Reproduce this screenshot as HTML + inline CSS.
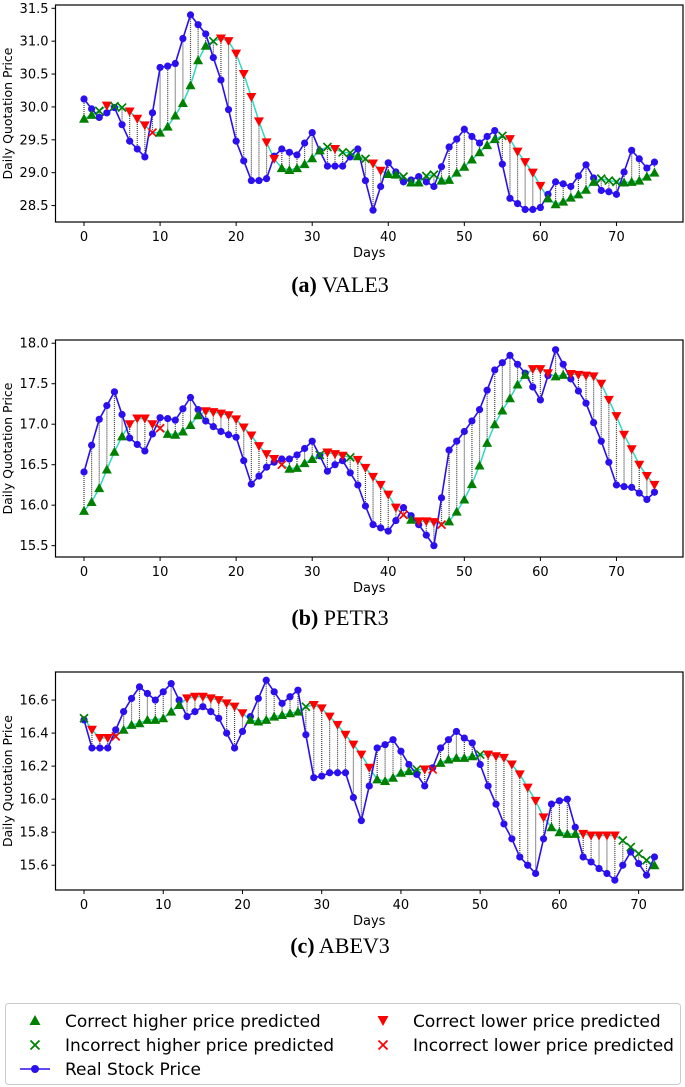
<!DOCTYPE html>
<html><head><meta charset="utf-8"><style>
html,body{margin:0;padding:0;background:#fff;}
svg{display:block;font-family:"DejaVu Sans","Liberation Sans",sans-serif;}
</style></head><body>
<svg id="root" width="685" height="1087" viewBox="0 0 685 1087" xmlns="http://www.w3.org/2000/svg">
<g id="charts"></g>
<text x="340" y="292" text-anchor="middle" font-family="Liberation Serif, serif" font-size="22"><tspan font-weight="bold">(a)</tspan> VALE3</text>
<text x="340" y="625" text-anchor="middle" font-family="Liberation Serif, serif" font-size="22"><tspan font-weight="bold">(b)</tspan> PETR3</text>
<text x="340" y="953" text-anchor="middle" font-family="Liberation Serif, serif" font-size="22"><tspan font-weight="bold">(c)</tspan> ABEV3</text>
<g>
<rect x="5.5" y="1003.5" width="675" height="81" rx="3" fill="#fff" stroke="#ccc"/>
<g>
<polygon points="35,1015 40.5,1025 29.5,1025" fill="green"/>
<text x="65" y="1027" font-size="17">Correct higher price predicted</text></g>
<g>
<path d="M30.5,1040.5 L39.5,1049.5 M39.5,1040.5 L30.5,1049.5" stroke="green" stroke-width="1.8"/>
<text x="65" y="1051" font-size="17">Incorrect higher price predicted</text></g>
<g>
<line x1="20" y1="1069" x2="50" y2="1069" stroke="#2a0ff0" stroke-width="1.6"/>
<circle cx="35" cy="1069" r="4" fill="#2a0ff0"/>
<text x="65" y="1075" font-size="17">Real Stock Price</text></g>
<g>
<polygon points="377.5,1016 388.5,1016 383,1026" fill="red"/>
<text x="413" y="1027" font-size="17">Correct lower price predicted</text></g>
<g>
<path d="M378.5,1040.5 L387.5,1049.5 M387.5,1040.5 L378.5,1049.5" stroke="red" stroke-width="1.8"/>
<text x="413" y="1051" font-size="17">Incorrect lower price predicted</text></g>
</g>
</svg>
<script>
const aReal=[30.12,29.97,29.84,29.91,29.99,29.73,29.48,29.36,29.24,29.91,30.60,30.62,30.66,31.04,31.40,31.25,31.11,30.75,30.41,29.96,29.48,29.18,28.88,28.88,28.91,29.25,29.36,29.31,29.27,29.45,29.61,29.33,29.10,29.10,29.10,29.24,29.36,28.88,28.43,28.79,29.15,29.01,28.86,28.89,28.94,28.86,28.79,29.09,29.39,29.51,29.66,29.55,29.45,29.55,29.64,29.13,28.61,28.53,28.44,28.44,28.47,28.67,28.86,28.83,28.79,28.95,29.12,28.92,28.73,28.71,28.67,29.01,29.34,29.21,29.07,29.16];
const aPred=[29.82,29.88,29.94,30.02,30.01,29.99,29.93,29.82,29.72,29.61,29.61,29.70,29.87,30.06,30.33,30.71,30.93,31.00,31.04,31.00,30.81,30.50,30.15,29.78,29.46,29.21,29.07,29.04,29.07,29.13,29.22,29.34,29.39,29.36,29.31,29.30,29.25,29.21,29.14,29.03,28.98,28.97,28.94,28.85,28.85,28.95,28.97,28.88,28.89,29.00,29.09,29.20,29.31,29.42,29.51,29.56,29.51,29.32,29.16,29.00,28.80,28.61,28.52,28.56,28.62,28.67,28.74,28.86,28.91,28.88,28.86,28.85,28.86,28.88,28.94,29.00];
const aKind="UUuDuuDDDdUUUUUUUuDDDDDDDDUUUUUUuDuuUuDDUUuUUuuUUUUUUUUuDDDDDUUUUUUUuuuUUUUU".split('');
const aYTicks=[28.5,29.0,29.5,30.0,30.5,31.0,31.5];

const bReal=[16.41,16.74,17.06,17.23,17.40,17.12,16.83,16.75,16.67,16.88,17.08,17.07,17.05,17.19,17.33,17.18,17.04,16.97,16.91,16.87,16.84,16.55,16.26,16.36,16.47,16.53,16.57,16.57,16.62,16.70,16.79,16.61,16.42,16.50,16.55,16.40,16.25,15.99,15.76,15.72,15.68,15.81,15.97,15.87,15.76,15.63,15.50,16.09,16.68,16.79,16.91,17.04,17.18,17.42,17.67,17.76,17.85,17.74,17.63,17.46,17.30,17.60,17.92,17.74,17.56,17.41,17.26,17.02,16.79,16.53,16.25,16.23,16.22,16.15,16.07,16.16];
const bPred=[15.93,16.04,16.21,16.44,16.66,16.85,17.00,17.07,17.07,17.00,16.95,16.88,16.87,16.91,16.99,17.11,17.16,17.15,17.13,17.11,17.06,16.96,16.86,16.73,16.63,16.57,16.50,16.45,16.46,16.52,16.57,16.62,16.65,16.63,16.61,16.59,16.56,16.46,16.35,16.25,16.13,15.97,15.88,15.82,15.80,15.80,15.79,15.76,15.80,15.92,16.07,16.26,16.49,16.77,17.00,17.17,17.32,17.49,17.61,17.68,17.68,17.63,17.59,17.61,17.62,17.61,17.60,17.59,17.50,17.30,17.10,16.87,16.69,16.50,16.36,16.25];
const bKind="UUUUUUDDDDdUUUUUDDDDDDDDDDdUUUUuDDDuDDDDDDdUDDDdUUUUUUUUUUUDDDUUDDDDDDDDDDDD".split('');
const bYTicks=[15.5,16.0,16.5,17.0,17.5,18.0];

const cReal=[16.48,16.31,16.31,16.31,16.42,16.53,16.61,16.68,16.64,16.60,16.65,16.70,16.60,16.50,16.53,16.56,16.53,16.49,16.40,16.31,16.41,16.50,16.61,16.72,16.65,16.58,16.62,16.66,16.39,16.13,16.14,16.16,16.16,16.16,16.01,15.87,16.08,16.31,16.33,16.36,16.29,16.21,16.15,16.08,16.19,16.31,16.36,16.41,16.37,16.34,16.21,16.08,15.97,15.85,15.76,15.65,15.60,15.55,15.76,15.97,15.99,16.00,15.83,15.65,15.62,15.58,15.55,15.51,15.60,15.68,15.61,15.54,15.65];
const cPred=[16.49,16.42,16.37,16.37,16.38,16.42,16.45,16.46,16.48,16.48,16.49,16.53,16.57,16.61,16.62,16.62,16.61,16.60,16.58,16.56,16.52,16.48,16.47,16.48,16.50,16.51,16.52,16.53,16.56,16.57,16.55,16.50,16.45,16.39,16.33,16.27,16.19,16.12,16.11,16.13,16.16,16.17,16.18,16.18,16.18,16.22,16.24,16.25,16.25,16.26,16.27,16.27,16.26,16.25,16.21,16.15,16.07,15.99,15.89,15.83,15.80,15.79,15.79,15.79,15.78,15.78,15.78,15.78,15.75,15.71,15.67,15.63,15.60];
const cKind="uDDDdUUUUUUUUDDDDDDDDUUUUUUUuDDDDDDDDUUUUUuDdUUUUUuDDDDDDDDUUUUDDDDDuuuuU".split('');
const cYTicks=[15.6,15.8,16.0,16.2,16.4,16.6];

const xTicks=[0,10,20,30,40,50,60,70];

const NS="http://www.w3.org/2000/svg";
function mk(tag,attrs,parent){const e=document.createElementNS(NS,tag);for(const k in attrs)e.setAttribute(k,attrs[k]);parent.appendChild(e);return e;}

function chart(id,real,pred,kind,yTicks,yMin,yMax,top,bottom,xMax,dec){
  const L=55.5,R=683;
  const g=mk('g',{},document.getElementById('charts'));
  
  
  const xs=d=>L+(d-(-xMax*0.05/1.05))*(R-L)/(xMax/1.05*1.0);
  const n=real.length-1;
  const x0=-n*0.05,x1=n*1.05;
  const X=d=>L+(d-x0)/(x1-x0)*(R-L);
  const Y=v=>bottom-(v-yMin)/(yMax-yMin)*(bottom-top);
  // dotted connectors
  for(let i=0;i<real.length;i++){
    const l=mk('line',{x1:X(i),x2:X(i),y1:Y(real[i]),y2:Y(pred[i]),stroke:'#000','stroke-width':1.2,'stroke-dasharray':'1,1',opacity:0.75},g);
    
    
  }
  const pp=mk('polyline',{points:pred.map((v,i)=>X(i)+','+Y(v)).join(' '),fill:'none',stroke:'#2fd8c0','stroke-width':1.5},g);
  
  
  const rp=mk('polyline',{points:real.map((v,i)=>X(i)+','+Y(v)).join(' '),fill:'none',stroke:'#2a0ff0','stroke-width':1.6},g);
  
  
  for(let i=0;i<real.length;i++){
    const c=mk('circle',{cx:X(i),cy:Y(real[i]),r:3.6,fill:'#2a0ff0'},g);
    
    
  }
  for(let i=0;i<pred.length;i++){
    const x=X(i),y=Y(pred[i]),k=kind[i];let m;
    if(k==='U'){m=mk('polygon',{points:`${x},${y-5} ${x+5},${y+4} ${x-5},${y+4}`,fill:'green'},g);}
    else if(k==='D'){m=mk('polygon',{points:`${x-5},${y-4} ${x+5},${y-4} ${x},${y+5}`,fill:'red'},g);}
    else{m=mk('path',{d:`M${x-4},${y-4}L${x+4},${y+4}M${x+4},${y-4}L${x-4},${y+4}`,stroke:k==='u'?'green':'red','stroke-width':1.7},g);}
    
    
  }
  const fr=mk('rect',{x:L,y:top,width:R-L,height:bottom-top,fill:'none',stroke:'#000','stroke-width':1.2},g);
  
  
  xTicks.forEach(t=>{
    mk('line',{x1:X(t),x2:X(t),y1:bottom,y2:bottom+4,stroke:'#000'},g);
    const tx=mk('text',{x:X(t),y:bottom+19,'text-anchor':'middle','font-size':13},g);
    tx.textContent=t;
    
    
  });
  yTicks.forEach(t=>{
    mk('line',{x1:L-4,x2:L,y1:Y(t),y2:Y(t),stroke:'#000'},g);
    const ty=mk('text',{x:L-7,y:Y(t)+4.5,'text-anchor':'end','font-size':13},g);
    ty.textContent=t.toFixed(1);
    
    
  });
  const xl=mk('text',{x:(L+R)/2,y:bottom+35,'text-anchor':'middle','font-size':13},g);
  xl.textContent='Days';
  
  
  const cy=(top+bottom)/2;
  const yl=mk('text',{x:12,y:cy,'text-anchor':'middle','font-size':12.5,transform:`rotate(-90 12 ${cy})`},g);
  yl.textContent='Daily Quotation Price';
  
  
}
chart('vale3',aReal,aPred,aKind,aYTicks,28.25,31.55,5,222);
chart('petr3',bReal,bPred,bKind,bYTicks,15.36,18.04,340,557);
chart('abev3',cReal,cPred,cKind,cYTicks,15.45,16.77,672,890);
</script>
</body></html>
